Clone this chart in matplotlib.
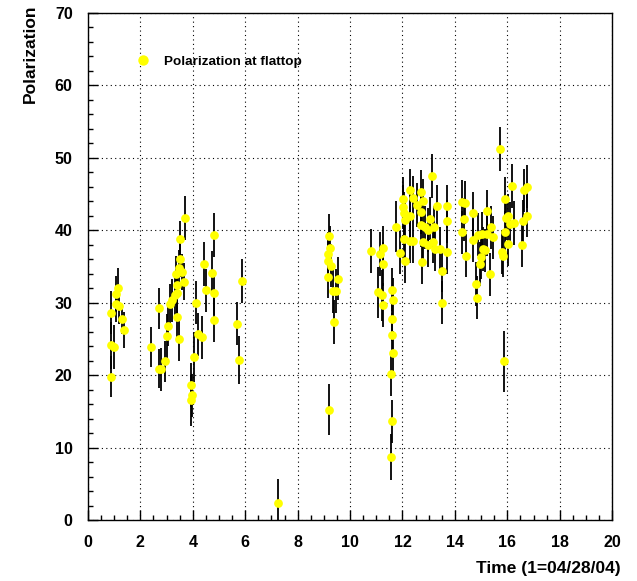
import matplotlib
matplotlib.use("Agg")
import matplotlib.pyplot as plt
from matplotlib.lines import Line2D
from matplotlib.ticker import MultipleLocator

# Polarization at flattop vs time (day, 1=04/28/04)
time = [0.88, 0.88, 0.88, 1.00, 1.06, 1.09, 1.16, 1.20, 1.29, 1.37,
        2.40, 2.71, 2.70, 2.79, 2.94, 3.03, 3.05, 3.13, 3.22, 3.32,
        3.38, 3.41, 3.36, 3.46, 3.60, 3.66, 3.41, 3.47, 3.52, 3.69, 3.50,
        4.13, 4.06, 3.94, 3.97, 3.93, 4.21, 4.34, 4.43, 4.50, 4.72,
        4.81, 4.82, 4.81,
        5.67, 5.78, 5.89, 7.26,
        9.20, 9.24, 9.17, 9.17, 9.26, 9.17, 9.53, 9.36, 9.45, 9.40, 9.20,
        10.80, 11.15, 11.27, 11.25, 11.08, 11.21, 11.25,
        11.59, 11.63, 11.62, 11.62, 11.65, 11.56, 11.59, 11.56,
        11.74, 11.91, 12.10, 12.07, 12.10, 12.03, 12.03, 12.06, 12.27, 12.29,
        12.42, 12.27, 12.42, 12.57, 12.71, 12.80, 12.71, 12.71, 12.80, 12.74,
        12.86, 12.99, 13.05, 13.12, 13.21, 12.99, 13.15, 13.24, 13.31, 13.44,
        13.50, 13.50, 13.69, 13.69, 13.71,
        14.26, 14.39, 14.33, 14.26, 14.43, 14.71, 14.71, 14.90, 14.81, 14.86,
        14.94, 14.99, 15.03, 15.09, 15.15, 15.22, 15.22, 15.34, 15.38, 15.45,
        15.73, 15.79, 15.83, 15.88, 15.92, 15.92, 15.95, 16.04, 16.04, 16.11,
        16.17, 16.26, 16.55, 16.61, 16.64, 16.77, 16.77]

polarization = [28.6, 24.1, 19.8, 23.9, 29.8, 31.2, 32.0, 29.6, 27.7, 26.2,
                23.9, 29.2, 20.9, 20.8, 21.9, 25.4, 26.8, 29.8, 30.3, 31.0,
                31.3, 32.4, 34.0, 34.8, 34.2, 32.9, 28.0, 25.0, 38.8, 41.7, 36.0,
                30.0, 22.5, 18.6, 17.2, 16.5, 25.6, 25.2, 35.3, 31.7, 34.1,
                39.3, 31.3, 27.6,
                27.1, 22.1, 33.0, 2.4,
                39.2, 37.6, 36.7, 35.8, 35.1, 33.6, 33.3, 31.6, 31.6, 27.3, 15.2,
                37.1, 36.7, 37.6, 35.3, 31.4, 31.0, 29.7,
                31.8, 30.4, 27.7, 25.5, 23.1, 20.1, 13.6, 8.7,
                40.5, 36.9, 35.7, 38.8, 41.4, 43.2, 44.3, 42.3, 42.0, 45.5,
                44.5, 38.5, 38.5, 43.5, 45.3, 44.0, 42.5, 40.7, 38.3, 35.6,
                40.4, 40.0, 41.6, 47.5, 40.4, 37.9, 38.4, 37.4, 43.3, 37.4,
                34.4, 30.0, 43.3, 41.2, 37.0,
                43.9, 43.8, 41.5, 39.7, 36.5, 42.3, 38.6, 39.4, 32.6, 30.7,
                35.3, 36.3, 39.5, 37.4, 37.2, 42.6, 39.5, 33.9, 40.4, 39.0,
                51.2, 37.0, 36.5, 21.9, 44.3, 39.7, 41.7, 42.0, 38.1, 40.9,
                46.1, 41.0, 37.9, 41.2, 45.5, 46.0, 42.0]

errors = [3.0, 3.2, 2.8, 3.0, 2.5, 2.5, 2.8, 2.5, 2.0, 2.5,
          2.8, 2.8, 2.7, 3.0, 2.8, 3.0, 2.8, 2.8, 3.0, 2.8,
          2.8, 2.5, 2.5, 2.5, 2.5, 2.5, 3.0, 3.0, 2.5, 3.0, 2.5,
          3.0, 3.5, 3.0, 3.0, 3.5, 3.0, 3.0, 3.0, 3.0, 3.0,
          3.0, 3.0, 3.0,
          3.0, 3.3, 3.0, 3.2,
          3.0, 3.0, 3.0, 3.0, 3.0, 3.0, 3.0, 3.0, 3.0, 3.0, 3.5,
          3.0, 3.0, 3.0, 3.0, 3.5, 3.5, 3.0,
          3.0, 3.0, 3.0, 3.0, 3.0, 3.0, 3.0, 3.2,
          3.5, 3.0, 3.0, 3.0, 3.0, 3.0, 3.0, 3.0, 3.0, 3.0,
          3.0, 3.0, 3.0, 3.0, 3.0, 3.0, 3.0, 3.0, 3.0, 3.0,
          3.0, 3.0, 3.0, 3.0, 3.0, 3.0, 3.0, 3.0, 3.0, 3.0,
          3.0, 3.0, 3.0, 3.0, 3.0,
          3.0, 3.0, 3.0, 3.0, 3.0, 3.0, 3.0, 3.0, 3.0, 3.0,
          3.0, 3.0, 3.0, 3.0, 3.0, 3.0, 3.0, 3.0, 3.0, 3.0,
          3.0, 3.0, 3.0, 4.2, 3.0, 3.0, 3.0, 3.0, 3.0, 3.0,
          3.0, 3.0, 3.0, 3.0, 3.0, 3.0, 3.0]

plt.rcParams['font.family'] = ['Liberation Sans', 'DejaVu Sans']

fig = plt.figure(figsize=(6.37, 5.81), dpi=100)
ax = fig.add_axes([0.138, 0.105, 0.823, 0.873])

ax.errorbar(time, polarization, yerr=errors, fmt='none', ecolor='black',
            elinewidth=1.3, capsize=0, zorder=2)
ax.plot(time, polarization, 'o', color='#ffff00', markersize=6.3,
        markeredgewidth=0, zorder=3)

ax.set_xlim(0, 20)
ax.set_ylim(0, 70)
ax.xaxis.set_major_locator(MultipleLocator(2))
ax.xaxis.set_minor_locator(MultipleLocator(0.5))
ax.yaxis.set_major_locator(MultipleLocator(10))
ax.yaxis.set_minor_locator(MultipleLocator(2))
ax.tick_params(which='both', direction='in', top=False, right=False,
               labelsize=11.5)
ax.tick_params(which='major', length=7, width=1)
ax.tick_params(which='minor', length=3.5, width=1)
ax.tick_params(axis='x', pad=11)
ax.tick_params(axis='y', pad=11)
for lab in ax.get_xticklabels() + ax.get_yticklabels():
    lab.set_fontweight('bold')

ax.grid(True, which='major', color='black', linestyle=(0, (1, 3)), linewidth=0.8)
for s in ax.spines.values():
    s.set_linewidth(1)

handle = Line2D([], [], marker='o', linestyle='none', color='#ffff00',
                markersize=7.5, markeredgewidth=0)
ax.legend([handle], ['Polarization at flattop'], loc='center left',
          bbox_to_anchor=(0.07, 0.903), frameon=False, handlelength=1,
          handletextpad=1.0, prop={'size': 9.7, 'weight': 'bold'})

fig.text(0.047, 0.992, 'Polarization', rotation=90, ha='center', va='top',
         fontsize=12.5, fontweight='bold')
fig.text(0.975, 1 - 569 / 581, 'Time (1=04/28/04)', ha='right', va='center',
         fontsize=12.5, fontweight='bold')

fig.savefig('out.png', dpi=100)
